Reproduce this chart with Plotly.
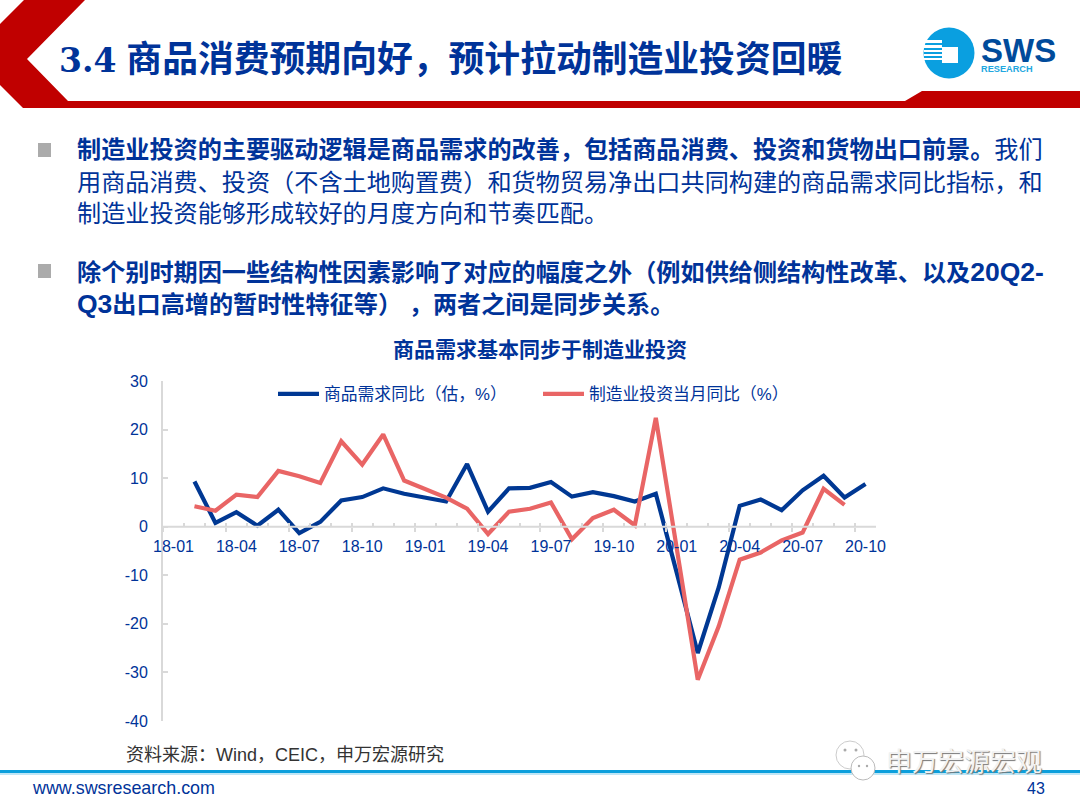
import plotly.graph_objects as go

W, H = 1080, 810
months = [f"{y}-{m:02d}" for y in (18, 19, 20) for m in range(1, 13)][:34]
demand = [None, 9.3, 0.8, 3.0, 0.2, 3.5, -1.3, 1.0, 5.4, 6.1, 7.9, 6.8, 6.0, 5.2, 12.9, 3.1, 7.9, 8.0, 9.2,
          6.2, 7.1, 6.3, 5.2, 6.8, -9.5, -26.0, -12.5, 4.3, 5.6, 3.4, 7.5, 10.5, 6.0, 8.8]
invest = [None, 4.2, 3.3, 6.6, 6.1, 11.5, 10.4, 9.0, 17.6, 12.8, 19.0, 9.5, 7.8, 6.0, 3.7, -1.5, 3.1, 3.7, 5.0,
          -2.6, 1.8, 3.5, 0.3, 22.4, -4.5, -31.5, -20.5, -6.8, -5.3, -2.8, -1.2, 7.8, 4.5, None]
series_names = ["商品需求同比（估，%）", "制造业投资当月同比（%）"]
y_ticks = [30, 20, 10, 0, -10, -20, -30, -40]
NAVY = "#003399"
BLUE_LINE = "#003893"
RED_LINE = "#E96565"
RED = "#C00000"
AXIS = "#D9D9D9"
SANS = "Liberation Sans, Noto Sans CJK SC"
LINE_W = 4.2


def px(x):
    return x / W


def py(y):
    return 1 - y / H


def poly(points, fill):
    d = "M" + " L".join(f"{px(x):.5f},{py(y):.5f}" for x, y in points) + " Z"
    return dict(type="path", xref="paper", yref="paper", path=d, fillcolor=fill,
                line=dict(width=0), layer="above")


def rect(x0, y0, x1, y1, fill):
    return dict(type="rect", xref="paper", yref="paper", x0=px(x0), x1=px(x1), y0=py(y0), y1=py(y1),
                fillcolor=fill, line=dict(width=0), layer="above")


def circle(cx, cy, r, fill, line=None, width=0):
    return dict(type="circle", xref="paper", yref="paper", x0=px(cx - r), x1=px(cx + r), y0=py(cy - r), y1=py(cy + r),
                fillcolor=fill, line=dict(width=width, color=line or fill), layer="above")


def text(x, y, s, size, color=NAVY, anchor="left", family=SANS, **font):
    return dict(xref="paper", yref="paper", x=px(x), y=py(y), text=s, showarrow=False, xanchor=anchor,
                yanchor="middle", align=anchor, font=dict(size=size, color=color, family=family, **font),
                borderpad=0, borderwidth=0)


def latin(s, size=26.5):
    return f"<span style='font-size:{size}px'>{s}</span>"


fig = go.Figure()
# carries the month-tick axis
fig.add_trace(go.Scatter(x=[-0.5, 33.5], y=[0, 0], xaxis="x2", yaxis="y", mode="lines", showlegend=False,
                         hoverinfo="skip", line=dict(color=AXIS, width=2)))
fig.add_trace(go.Scatter(x=months, y=demand, name=series_names[0], mode="lines",
                         line=dict(color=BLUE_LINE, width=LINE_W)))
fig.add_trace(go.Scatter(x=months, y=invest, name=series_names[1], mode="lines",
                         line=dict(color=RED_LINE, width=LINE_W)))

shapes = [
    poly([(0, 24), (24, 0), (85, 0), (27, 59), (68, 101), (905, 101), (922, 91), (1080, 91), (1080, 108), (23, 108), (0, 85)], RED),
    rect(38, 143, 51, 157, "#ABABAB"),
    rect(38, 264, 51, 278, "#ABABAB"),
    rect(0, 770, 1080, 773, "#0C9FDC"),
    rect(0, 773, 1080, 775, "#BFE6F6"),
    circle(949, 53, 25.5, "#0A9FE0"),
    rect(924, 40, 942, 43, "#FFFFFF"),
    rect(924, 45, 942, 48, "#FFFFFF"),
    rect(924, 50, 942, 52, "#FFFFFF"),
    rect(924, 54, 942, 56, "#FFFFFF"),
    rect(924, 58, 942, 60, "#FFFFFF"),
    rect(942, 47, 958, 63, "#FFFFFF"),
    circle(850, 755, 14, "#FFFFFF", "#CCCCCC", 1),
    circle(863, 768, 12, "#FFFFFF", "#BBBBBB", 1),
    circle(845, 750, 1.5, "#AAAAAA"),
    circle(856, 750, 1.5, "#AAAAAA"),
    circle(859, 766, 1.2, "#AAAAAA"),
    circle(867, 766, 1.2, "#AAAAAA"),
]

B = "<b>%s</b>"
BODY = 24.15
annotations = [
    text(59, 60, "<b><span style='font-family:DejaVu Serif;font-size:33px'>3.4</span> 商品消费预期向好，预计拉动制造业投资回暖</b>", 35.8),
    text(981, 50, "<b>SWS</b>", 33, "#004B9B"),
    text(981, 69, "<b>RESEARCH</b>", 9.2, "#21A7E0"),
    text(77, 150, B % "制造业投资的主要驱动逻辑是商品需求的改善，包括商品消费、投资和货物出口前景。" + "我们", BODY),
    text(77, 182, "用商品消费、投资（不含土地购置费）和货物贸易净出口共同构建的商品需求同比指标，和", BODY),
    text(77, 214, "制造业投资能够形成较好的月度方向和节奏匹配。", BODY),
    text(77, 272, B % ("除个别时期因一些结构性因素影响了对应的幅度之外（例如供给侧结构性改革、以及" + latin("20Q2-")), BODY),
    text(77, 304, B % (latin("Q3") + "出口高增的暂时性特征等）\u00a0，两者之间是同步关系。"), BODY),
    text(540, 350, B % "商品需求基本同步于制造业投资", 21, anchor="center"),
    text(126, 755, "资料来源：Wind，CEIC，申万宏源研究", 18, "#333333"),
    text(32, 788, "www.swsresearch.com", 17.9),
    text(1045, 788, "43", 16, anchor="right"),
    text(886, 762, "申万宏源宏观", 26, "#F2F2F2", shadow="1px 1px 1px #777777"),
]

fig.update_layout(
    width=W, height=H, margin=dict(l=0, r=0, t=0, b=0, autoexpand=False), autosize=False,
    paper_bgcolor="white", plot_bgcolor="white",
    font=dict(family=SANS, color=NAVY, size=16),
    showlegend=True,
    legend=dict(orientation="h", x=px(273), y=py(394), xanchor="left", yanchor="middle",
                bgcolor="rgba(0,0,0,0)", font=dict(size=16.8, color=NAVY), itemwidth=41,
                entrywidth=209, entrywidthmode="pixels", traceorder="normal"),
    xaxis=dict(domain=[px(163), px(876)], type="category", categoryorder="array", categoryarray=months,
               range=[-0.5, 33.5], anchor="free", position=py(526.5), dtick=3, tick0=0, tickson="boundaries",
               ticks="outside", ticklen=4, tickwidth=2, tickcolor=AXIS, showgrid=False, zeroline=False,
               showline=False, tickangle=0, tickfont=dict(size=16, color=NAVY), ticklabelstandoff=8),
    xaxis2=dict(domain=[px(163), px(876)], overlaying="x", type="linear", range=[-0.5, 33.5], anchor="free",
                position=py(526.5), tick0=-0.5, dtick=1, ticks="inside", ticklen=4, tickwidth=2, tickcolor=AXIS,
                showticklabels=False, showgrid=False, zeroline=False, showline=False),
    yaxis=dict(domain=[py(721), py(381)], range=[-40, 30], tickvals=y_ticks, ticktext=[str(v) for v in y_ticks],
               ticks="inside", ticklen=5, tickwidth=2,
               tickcolor=AXIS, showline=True, linecolor=AXIS, linewidth=2, showgrid=False, zeroline=False,
               tickfont=dict(size=16, color=NAVY), ticklabelstandoff=10),
    shapes=shapes, annotations=annotations,
)

fig.write_html("out.html", config=dict(displayModeBar=False),
               post_script="document.body.style.margin='0';document.body.style.overflow='hidden';")
